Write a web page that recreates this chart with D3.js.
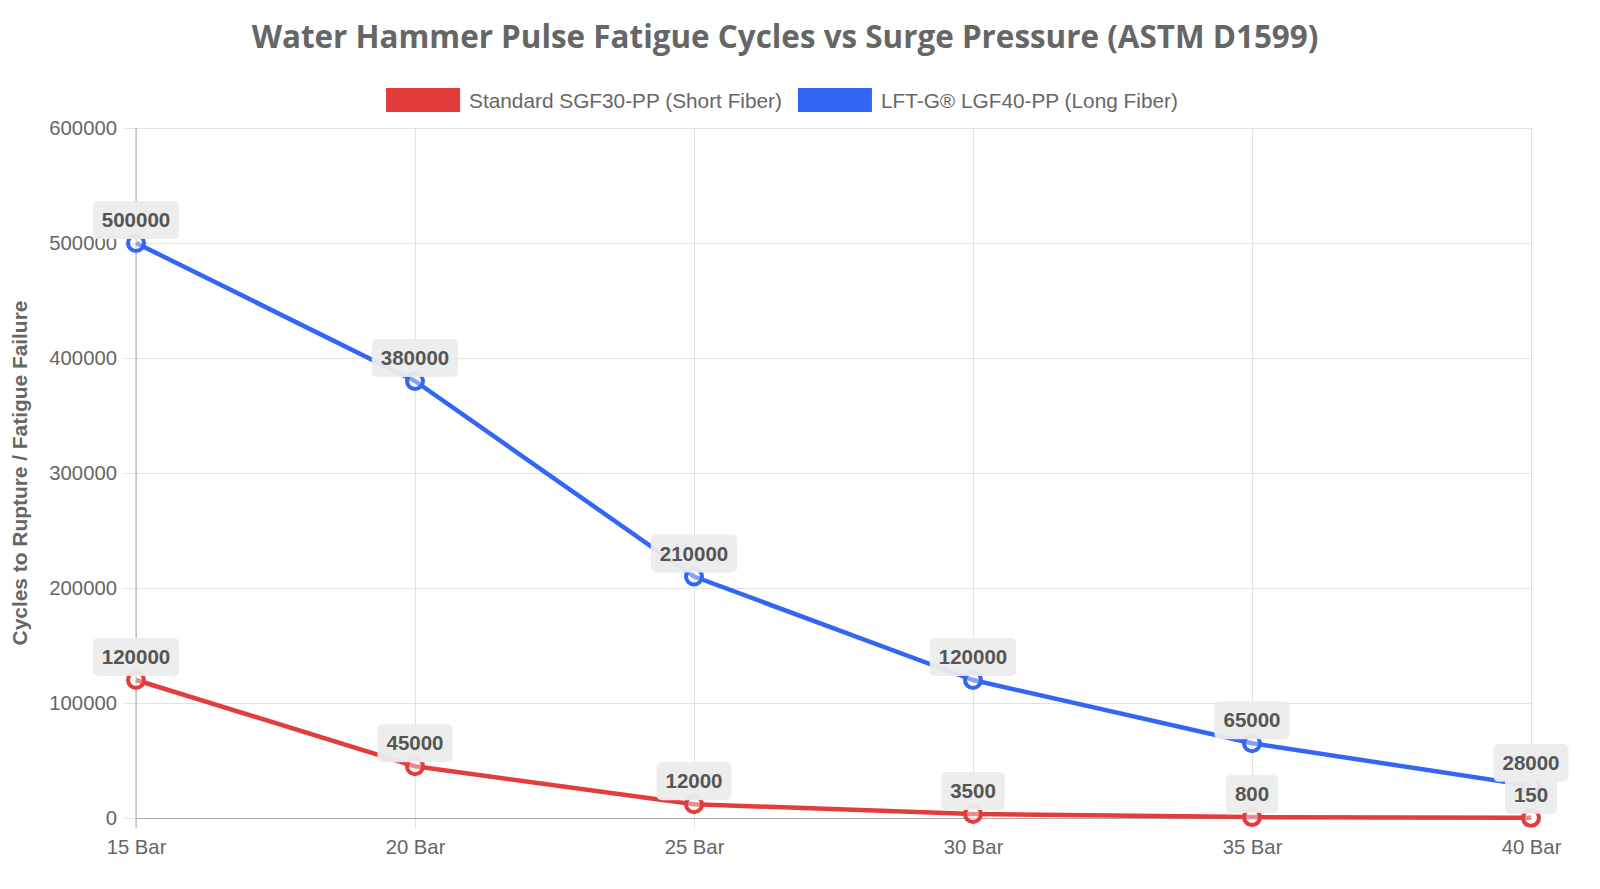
<!DOCTYPE html>
<html>
<head>
<meta charset="utf-8">
<script src="https://cdn.jsdelivr.net/npm/d3@7"></script>
<style>
  body { margin: 0; background: #fff; }
  svg { display: block; }
</style>
</head>
<body>
<div id="chart"></div>
<script>
// Chart data
var pressures = ["15 Bar", "20 Bar", "25 Bar", "30 Bar", "35 Bar", "40 Bar"];
var shortFiber = [120000, 45000, 12000, 3500, 800, 150];
var longFiber = [500000, 380000, 210000, 120000, 65000, 28000];
var yTicks = [0, 100000, 200000, 300000, 400000, 500000, 600000];
var seriesNames = ["Standard SGF30-PP (Short Fiber)", "LFT-G\u00AE LGF40-PP (Long Fiber)"];
var seriesColors = ["#e23c3c", "#3366f5"];

var svgWidth = 1600, svgHeight = 889;
var margin = { top: 128, bottom: 71, left: 136, right: 69 };
var width = svgWidth - margin.left - margin.right;
var height = svgHeight - margin.top - margin.bottom;
var tickFont = "'Liberation Sans', Arial, sans-serif";

var svg = d3.select("#chart").append("svg")
  .attr("width", svgWidth)
  .attr("height", svgHeight);

// title
svg.append("text")
  .attr("x", 785)
  .attr("y", 48)
  .attr("text-anchor", "middle")
  .style("font-family", "'Open Sans', sans-serif")
  .style("font-weight", "bold")
  .style("font-size", "31.4px")
  .style("fill", "#666")
  .text("Water Hammer Pulse Fatigue Cycles vs Surge Pressure (ASTM D1599)");

// legend
var legend = svg.append("g");
var lx = 0;
seriesNames.forEach(function(name, i) {
  var item = legend.append("g").attr("transform", "translate(" + lx + ",0)");
  item.append("rect")
    .attr("width", 74).attr("height", 24)
    .attr("fill", seriesColors[i]);
  var t = item.append("text")
    .attr("x", 83).attr("y", 19.5)
    .style("font-family", tickFont)
    .style("font-size", "20.8px")
    .style("fill", "#666")
    .text(name);
  lx += 83 + t.node().getComputedTextLength() + 16;
});
lx -= 16;
legend.attr("transform", "translate(" + (782 - lx / 2) + ",88)");

var chartGroup = svg.append("g")
  .attr("transform", "translate(" + margin.left + "," + margin.top + ")");

var xScale = d3.scalePoint().domain(pressures).range([0, width]);
var yScale = d3.scaleLinear().domain([0, 600000]).range([height, 0]);

// grid
chartGroup.append("g")
  .attr("transform", "translate(0," + height + ")")
  .call(d3.axisBottom(xScale).tickFormat(""))
  .call(function(g) {
    g.select(".domain").remove();
    g.selectAll("line").attr("stroke", "#e2e2e2").attr("y2", -height).attr("y1", 10);
  });
chartGroup.append("g")
  .call(d3.axisLeft(yScale).tickValues(yTicks).tickFormat(""))
  .call(function(g) {
    g.select(".domain").remove();
    g.selectAll("line").attr("stroke", "#e2e2e2").attr("x1", -12).attr("x2", width);
  });

// axes
var xAxis = chartGroup.append("g")
  .attr("transform", "translate(0," + height + ")")
  .call(d3.axisBottom(xScale).tickSize(0).tickPadding(22));
xAxis.select(".domain").attr("stroke", "#aaa");
xAxis.selectAll("text")
  .style("font-family", tickFont).style("font-size", "20.3px").style("fill", "#666");

var yAxis = chartGroup.append("g")
  .call(d3.axisLeft(yScale).tickValues(yTicks).tickSize(0).tickPadding(19).tickFormat(d3.format("d")));
yAxis.select(".domain").remove();
yAxis.selectAll("text")
  .style("font-family", tickFont).style("font-size", "20.3px").style("fill", "#666");
chartGroup.append("line")
  .attr("x1", 0).attr("x2", 0).attr("y1", 0).attr("y2", height + 10)
  .attr("stroke", "#aaa");

// y title
svg.append("text")
  .attr("transform", "translate(27," + 473 + ") rotate(-90)")
  .attr("text-anchor", "middle")
  .style("font-family", tickFont)
  .style("font-weight", "bold")
  .style("font-size", "20.9px")
  .style("fill", "#666")
  .text("Cycles to Rupture / Fatigue Failure");

var series = [shortFiber, longFiber];
var line = d3.line()
  .x(function(d, i) { return xScale(pressures[i]); })
  .y(function(d) { return yScale(d); });

series.forEach(function(values, s) {
  chartGroup.append("path")
    .datum(values)
    .attr("fill", "none")
    .attr("stroke", seriesColors[s])
    .attr("stroke-width", 4.5)
    .attr("stroke-linejoin", "round")
    .attr("d", line);
});
series.forEach(function(values, s) {
  chartGroup.selectAll(".pt" + s)
    .data(values)
    .enter().append("circle")
    .attr("cx", function(d, i) { return xScale(pressures[i]); })
    .attr("cy", function(d) { return yScale(d); })
    .attr("r", 8)
    .attr("fill", "rgba(255,255,255,0.4)")
    .attr("stroke", seriesColors[s])
    .attr("stroke-width", 4);
});

// data labels: blue first, red on top
[1, 0].forEach(function(s) {
  series[s].forEach(function(v, i) {
    var cx = xScale(pressures[i]);
    var cy = yScale(v);
    var g = chartGroup.append("g");
    var rect = g.append("rect");
    var t = g.append("text")
      .attr("x", cx)
      .attr("y", cy - 23 + 7)
      .attr("text-anchor", "middle")
      .style("font-family", tickFont)
      .style("font-weight", "bold")
      .style("font-size", "20.5px")
      .style("fill", "#555")
      .text(v);
    var w = t.node().getComputedTextLength() + 18;
    rect.attr("x", cx - w / 2)
      .attr("y", cy - 4 - 38)
      .attr("width", w)
      .attr("height", 38)
      .attr("rx", 5)
      .attr("fill", "rgba(236,236,236,0.95)");
  });
});
</script>
</body>
</html>
